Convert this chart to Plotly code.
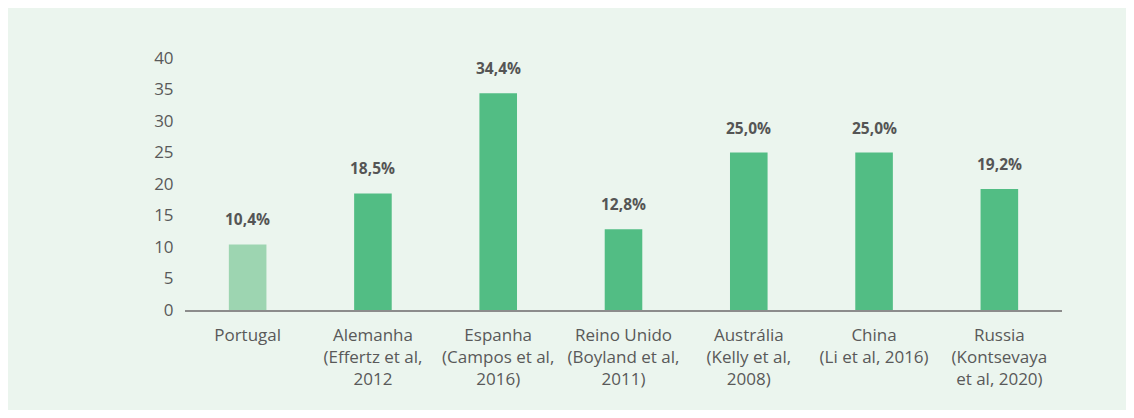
import plotly.graph_objects as go

categories = [
    "Portugal",
    "Alemanha<br>(Effertz et al,<br>2012",
    "Espanha<br>(Campos et al,<br>2016)",
    "Reino Unido<br>(Boyland et al,<br>2011)",
    "Austrália<br>(Kelly et al,<br>2008)",
    "China<br>(Li et al, 2016)",
    "Russia<br>(Kontsevaya<br>et al, 2020)",
]
values = [10.4, 18.5, 34.4, 12.8, 25.0, 25.0, 19.2]
value_labels = ["10,4%", "18,5%", "34,4%", "12,8%", "25,0%", "25,0%", "19,2%"]
bar_colors = ["#9dd5b1"] + ["#52bd84"] * 6
y_ticks = [0, 5, 10, 15, 20, 25, 30, 35, 40]

fig = go.Figure()
fig.add_trace(go.Bar(
    x=categories, y=values,
    marker=dict(color=bar_colors, line=dict(width=0)),
    hoverinfo="skip",
))

for c, v, t in zip(categories, values, value_labels):
    fig.add_annotation(
        x=c, y=v, text="<b>%s</b>" % t, showarrow=False,
        yanchor="bottom", yshift=12,
        font=dict(family="Open Sans", size=15.5, color="#555555"),
    )

fig.update_layout(
    width=1140, height=402,
    margin=dict(l=177, r=86, t=50, b=100),
    paper_bgcolor="#ebf5ee",
    plot_bgcolor="rgba(0,0,0,0)",
    bargap=0.7,
    showlegend=False,
    font=dict(family="Open Sans", size=17, color="#595959"),
)
fig.update_xaxes(
    showline=True, linecolor="#8c8c8c", linewidth=1.5,
    showgrid=False, ticks="outside", ticklen=9, tickcolor="rgba(0,0,0,0)",
    tickfont=dict(size=17, color="#595959"),
)
fig.update_yaxes(
    range=[0, 40], tickvals=y_ticks, showgrid=False, zeroline=False,
    ticks="outside", ticklen=7, tickcolor="rgba(0,0,0,0)",
    tickfont=dict(size=17, color="#595959"),
)

fig.write_html("out.html")
